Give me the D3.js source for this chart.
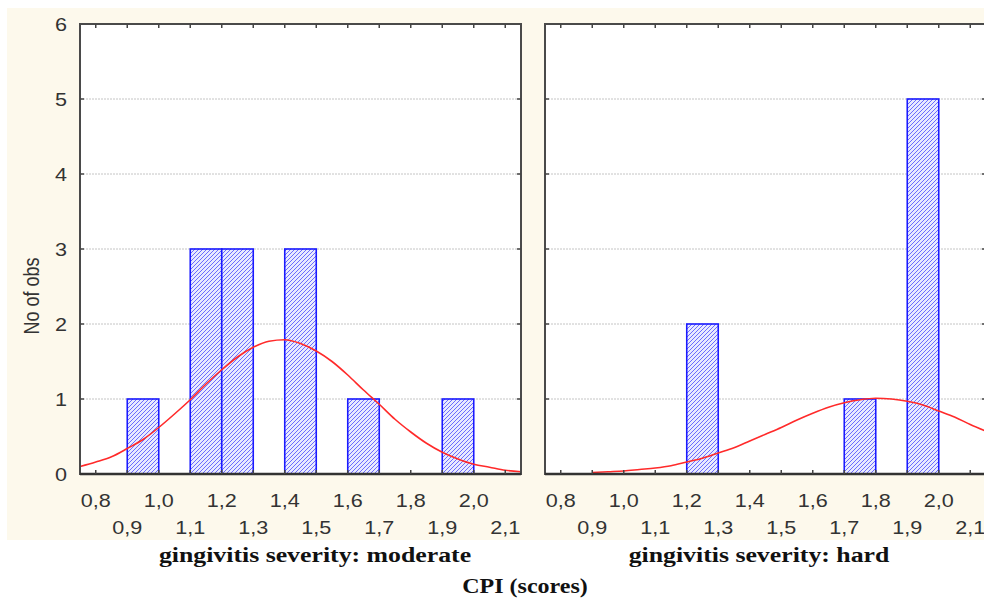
<!DOCTYPE html>
<html>
<head>
<meta charset="utf-8">
<script src="https://cdn.jsdelivr.net/npm/d3@7"></script>
<style>
  body { margin: 0; background: #fff; }
  svg { display: block; }
</style>
</head>
<body>
<div id="chart"></div>
<script>
// histogram bins (lower edge of each 0.1 wide class) and counts
const binWidth = 0.1
const moderateBins = [0.9, 1.1, 1.2, 1.4, 1.6, 1.9]
const moderateCounts = [1, 3, 3, 3, 1, 1]
const hardBins = [1.2, 1.7, 1.9]
const hardCounts = [2, 1, 5]

// fitted normal curves, every 0.05
const moderateCurveX = [0.75, 0.8, 0.85, 0.9, 0.95, 1.0, 1.05, 1.1, 1.15, 1.2, 1.25, 1.3, 1.35, 1.4, 1.45,
  1.5, 1.55, 1.6, 1.65, 1.7, 1.75, 1.8, 1.85, 1.9, 1.95, 2.0, 2.05, 2.1, 2.15]
const moderateCurveY = [0.10, 0.16, 0.23, 0.34, 0.46, 0.62, 0.80, 0.99, 1.20, 1.39, 1.56, 1.69, 1.77, 1.79, 1.74,
  1.64, 1.50, 1.32, 1.12, 0.93, 0.73, 0.56, 0.41, 0.29, 0.20, 0.13, 0.09, 0.05, 0.03]
const hardCurveX = [0.9, 0.95, 1.0, 1.05, 1.1, 1.15, 1.2, 1.25, 1.3, 1.35, 1.4, 1.45, 1.5, 1.55, 1.6,
  1.65, 1.7, 1.75, 1.8, 1.85, 1.9, 1.95, 2.0, 2.05, 2.1, 2.15]
const hardCurveY = [0.02, 0.03, 0.04, 0.06, 0.08, 0.11, 0.16, 0.21, 0.28, 0.35, 0.44, 0.53, 0.62, 0.72, 0.81,
  0.89, 0.95, 0.99, 1.01, 1.00, 0.97, 0.92, 0.84, 0.76, 0.66, 0.57]

const xTicks = [0.8, 0.9, 1.0, 1.1, 1.2, 1.3, 1.4, 1.5, 1.6, 1.7, 1.8, 1.9, 2.0, 2.1]
const yTicks = [0, 1, 2, 3, 4, 5, 6]
const panelTitles = ["gingivitis severity: moderate", "gingivitis severity: hard"]
const yTitle = "No of obs"
const xTitle = "CPI (scores)"

const W = 984, H = 598
const plotTop = 24, plotBottom = 474
const sans = "'Liberation Sans', Arial, sans-serif"
const serif = "'Liberation Serif', 'Times New Roman', serif"
const stretch = 1.2   // the picture is a bit wider than tall

let svg = d3.select("#chart").append("svg")
  .attr("width", W).attr("height", H)

svg.append("rect").attr("width", W).attr("height", H).attr("fill", "#fff")
svg.append("rect").attr("x", 7).attr("y", 8).attr("width", W - 7).attr("height", 532)
  .attr("fill", "#fdf9ec")

let defs = svg.append("defs")
let pat = defs.append("pattern").attr("id", "hatch")
  .attr("patternUnits", "userSpaceOnUse").attr("width", 4).attr("height", 4)
pat.append("rect").attr("width", 4).attr("height", 4).attr("fill", "#e8eaff")
pat.append("path").attr("d", "M-1,1 l2,-2 M0,4 l4,-4 M3,5 l2,-2")
  .attr("stroke", "#6c6cff").attr("stroke-width", 1)

let y = d3.scaleLinear().domain([0, 6]).range([plotBottom, plotTop])

let fmt = v => d3.format(".1f")(v).replace(".", ",")

function stretchedText(g, x, yy, txt, opts) {
  return g.append("text")
    .attr("transform", `translate(${x},${yy}) scale(${stretch},1)`)
    .attr("text-anchor", opts.anchor || "middle")
    .attr("font-family", opts.family || sans)
    .attr("font-size", opts.size)
    .attr("font-weight", opts.weight || "normal")
    .attr("fill", opts.fill || "#333")
    .text(txt)
}

function panel(idx, left, right, bins, counts, cx, cy, showY, titleX) {
  let x = d3.scaleLinear().domain([0.75, 2.15]).range([left, right])
  let g = svg.append("g")

  defs.append("clipPath").attr("id", "clip" + idx)
    .append("rect").attr("x", left).attr("y", plotTop).attr("width", right - left).attr("height", plotBottom - plotTop)

  g.append("rect").attr("x", left).attr("y", plotTop).attr("width", right - left).attr("height", plotBottom - plotTop)
    .attr("fill", "#fff")

  // dotted grid
  g.selectAll(".grid").data(yTicks.filter(d => d > 0 && d < 6)).enter().append("line")
    .attr("x1", left).attr("x2", right)
    .attr("y1", d => y(d)).attr("y2", d => y(d))
    .attr("stroke", "#c4c4c4").attr("stroke-width", 1).attr("stroke-dasharray", "2,1")

  // bars
  g.selectAll(".bar").data(bins.map((b, i) => ({ x0: b, n: counts[i] }))).enter().append("rect")
    .attr("x", d => x(d.x0))
    .attr("y", d => y(d.n))
    .attr("width", d => x(d.x0 + binWidth) - x(d.x0))
    .attr("height", d => y(0) - y(d.n))
    .attr("fill", "url(#hatch)")
    .attr("stroke", "#1a1aff").attr("stroke-width", 1.6)

  // normal curve
  let line = d3.line().x(d => x(d[0])).y(d => y(d[1])).curve(d3.curveMonotoneX)
  g.append("path").datum(cx.map((v, i) => [v, cy[i]]))
    .attr("clip-path", `url(#clip${idx})`)
    .attr("d", line)
    .attr("fill", "none").attr("stroke", "#ff2a2a").attr("stroke-width", 1.6)

  // frame
  g.append("rect").attr("x", left).attr("y", plotTop).attr("width", right - left).attr("height", plotBottom - plotTop)
    .attr("fill", "none").attr("stroke", "#4a4a4a").attr("stroke-width", 2)
  g.append("line").attr("x1", left).attr("x2", right).attr("y1", plotBottom).attr("y2", plotBottom)
    .attr("stroke", "#333").attr("stroke-width", 2.4)

  // inward ticks
  g.selectAll(".tt").data(xTicks).enter().append("line")
    .attr("x1", d => x(d)).attr("x2", d => x(d)).attr("y1", plotTop).attr("y2", plotTop + 4)
    .attr("stroke", "#444").attr("stroke-width", 1.5)
  g.selectAll(".bt").data(xTicks).enter().append("line")
    .attr("x1", d => x(d)).attr("x2", d => x(d)).attr("y1", plotBottom).attr("y2", plotBottom - 4)
    .attr("stroke", "#444").attr("stroke-width", 1.5)
  g.selectAll(".lt").data(yTicks.slice(1, -1)).enter().append("line")
    .attr("x1", left).attr("x2", left + 4).attr("y1", d => y(d)).attr("y2", d => y(d))
    .attr("stroke", "#444").attr("stroke-width", 1.5)
  g.selectAll(".rt").data(yTicks.slice(1, -1)).enter().append("line")
    .attr("x1", right).attr("x2", right - 4).attr("y1", d => y(d)).attr("y2", d => y(d))
    .attr("stroke", "#444").attr("stroke-width", 1.5)

  // x labels on two rows
  xTicks.forEach((t, i) => {
    let row = i % 2 == 0 ? 507 : 534
    stretchedText(g, x(t), row, fmt(t), { size: 18 })
  })

  if (showY) {
    yTicks.forEach(t => {
      stretchedText(g, left - 13, y(t) + 6.5, t, { size: 18, anchor: "end" })
    })
  }

  stretchedText(svg, titleX, 562, panelTitles[idx],
    { size: 21.5, family: serif, weight: "bold", fill: "#111" })
}

panel(0, 80, 521, moderateBins, moderateCounts, moderateCurveX, moderateCurveY, true, 315)
panel(1, 545, 986, hardBins, hardCounts, hardCurveX, hardCurveY, false, 759)

svg.append("text")
  .attr("transform", `translate(39,296) rotate(-90) scale(1,${stretch})`)
  .attr("text-anchor", "middle")
  .attr("font-family", sans).attr("font-size", 18).attr("fill", "#333")
  .text(yTitle)

stretchedText(svg, 525, 593, xTitle, { size: 20, family: serif, weight: "bold", fill: "#111" })
</script>
</body>
</html>
